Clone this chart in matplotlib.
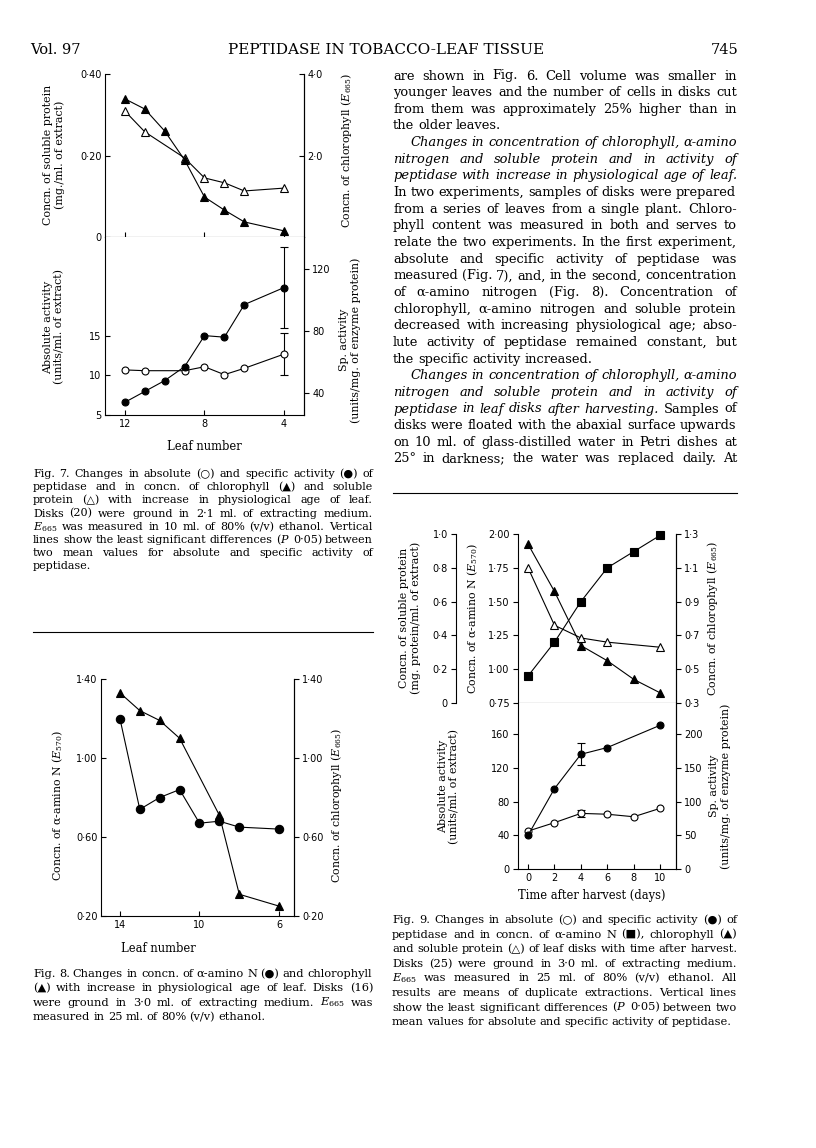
import matplotlib
matplotlib.use('Agg')
import matplotlib.pyplot as plt

plt.rcParams['font.family'] = ['DejaVu Serif', 'DejaVu Sans']
plt.rcParams['mathtext.fontset'] = 'dejavuserif'

# ---- Fig. 7 data (leaf number) ----
leaf7_chl = [12, 11, 10, 9, 8, 7, 6, 4]
chl7 = [3.39, 3.14, 2.60, 1.89, 0.98, 0.66, 0.37, 0.15]
leaf7_prot = [12, 11, 9, 8, 7, 6, 4]
prot7 = [0.309, 0.258, 0.194, 0.145, 0.133, 0.113, 0.120]
leaf7_sp = [12, 11, 10, 9, 8, 7, 6, 4]
sp7 = [34, 41, 48, 57, 77, 76, 97, 108]
leaf7_abs = [12, 11, 9, 8, 7, 6, 4]
abs7 = [10.7, 10.6, 10.6, 11.1, 10.1, 10.9, 12.7]
lsd7_abs = 2.7
lsd7_sp = 26

# ---- Fig. 8 data ----
leaf8_n = [14, 13, 12, 11, 10, 9, 8, 6]
amino8 = [1.20, 0.74, 0.80, 0.84, 0.67, 0.68, 0.65, 0.64]
leaf8_chl = [14, 13, 12, 11, 9, 8, 6]
chl8 = [1.33, 1.24, 1.19, 1.10, 0.71, 0.31, 0.25]

# ---- Fig. 9 data (days after harvest) ----
day9 = [0, 2, 4, 6, 8, 10]
amino9 = [0.95, 1.20, 1.50, 1.75, 1.87, 1.99]
chl9 = [1.24, 0.96, 0.64, 0.55, 0.44, 0.36]
day9_prot = [0, 2, 4, 6, 10]
prot9 = [0.80, 0.46, 0.385, 0.36, 0.33]
abs9 = [45, 55, 66, 65, 62, 72]
day9_sp = [0, 2, 4, 6, 10]
sp9 = [50, 119, 170, 180, 213]
lsd9_abs = 4
lsd9_sp = 16

# ---- page text ----
header = ['Vol. 97', 'PEPTIDASE IN TOBACCO-LEAF TISSUE', '745']

# (segments [(text, italic)], indent px, justified)
body = [
    ([('are shown in Fig. 6.  Cell volume was smaller in', 0)], 0, 1),
    ([('younger leaves and the number of cells in disks cut', 0)], 0, 1),
    ([('from them was approximately 25% higher than in', 0)], 0, 1),
    ([('the older leaves.', 0)], 0, 0),
    ([('Changes in concentration of chlorophyll, α-amino', 1)], 17, 1),
    ([('nitrogen and soluble protein and in activity of', 1)], 0, 1),
    ([('peptidase with increase in physiological age of leaf.', 1)], 0, 1),
    ([('In two experiments, samples of disks were prepared', 0)], 0, 1),
    ([('from a series of leaves from a single plant.  Chloro-', 0)], 0, 1),
    ([('phyll content was measured in both and serves to', 0)], 0, 1),
    ([('relate the two experiments.  In the first experiment,', 0)], 0, 1),
    ([('absolute and specific activity of peptidase was', 0)], 0, 1),
    ([('measured (Fig. 7), and, in the second, concentration', 0)], 0, 1),
    ([('of α-amino nitrogen (Fig. 8).  Concentration of', 0)], 0, 1),
    ([('chlorophyll, α-amino nitrogen and soluble protein', 0)], 0, 1),
    ([('decreased with increasing physiological age; abso-', 0)], 0, 1),
    ([('lute activity of peptidase remained constant, but', 0)], 0, 1),
    ([('the specific activity increased.', 0)], 0, 0),
    ([('Changes in concentration of chlorophyll, α-amino', 1)], 17, 1),
    ([('nitrogen and soluble protein and in activity of', 1)], 0, 1),
    ([('peptidase in leaf disks after harvesting.', 1), ('Samples of', 0)], 0, 1),
    ([('disks were floated with the abaxial surface upwards', 0)], 0, 1),
    ([('on 10 ml. of glass-distilled water in Petri dishes at', 0)], 0, 1),
    ([('25° in darkness; the water was replaced daily.  At', 0)], 0, 1),
]

cap7 = [
    'Fig. 7.  Changes in absolute (○) and specific activity (●) of',
    'peptidase and in concn. of chlorophyll (▲) and soluble',
    'protein (△) with increase in physiological age of leaf.',
    'Disks (20) were ground in 2·1 ml. of extracting medium.',
    '$E_{665}$ was measured in 10 ml. of 80% (v/v) ethanol.  Vertical',
    'lines show the least significant differences ($P$ 0·05) between',
    'two mean values for absolute and specific activity of',
    'peptidase.',
]
cap8 = [
    'Fig. 8.  Changes in concn. of α-amino N (●) and chlorophyll',
    '(▲) with increase in physiological age of leaf.  Disks (16)',
    'were ground in 3·0 ml. of extracting medium.  $E_{665}$ was',
    'measured in 25 ml. of 80% (v/v) ethanol.',
]
cap9 = [
    'Fig. 9.  Changes in absolute (○) and specific activity (●) of',
    'peptidase and in concn. of α-amino N (■), chlorophyll (▲)',
    'and soluble protein (△) of leaf disks with time after harvest.',
    'Disks (25) were ground in 3·0 ml. of extracting medium.',
    '$E_{665}$ was measured in 25 ml. of 80% (v/v) ethanol.  All',
    'results are means of duplicate extractions.  Vertical lines',
    'show the least significant differences ($P$ 0·05) between two',
    'mean values for absolute and specific activity of peptidase.',
]

W, H = 816, 1148
fig = plt.figure(figsize=(W / 100, H / 100), dpi=100)
R = fig.canvas.get_renderer()


def fx(x):
    return x / W


def fy(y):
    return 1 - y / H


def px_axes(x0, y0, x1, y1):
    return fig.add_axes([fx(x0), fy(y1), (x1 - x0) / W, (y1 - y0) / H])


def text_block(lines, x0, x1, y0, dy, max_size, gap_em=0.28):
    # lay words out at a test size, then pick the largest size that fits every line
    s0 = 10.0
    rows = []
    worst = 0
    for i, (segs, ind, just) in enumerate(lines):
        items = []
        for txt, it in segs:
            for w in txt.split():
                items.append(fig.text(0, fy(y0 + dy * i), w, fontsize=s0, va='baseline',
                                      style='italic' if it else 'normal'))
        widths = [t.get_window_extent(R).width for t in items]
        natural = sum(widths) + (len(items) - 1) * gap_em * s0 * 100 / 72
        worst = max(worst, natural / (x1 - x0 - ind))
        rows.append((items, widths, ind, just))
    size = min(max_size, s0 / worst)
    k = size / s0
    for items, widths, ind, just in rows:
        widths = [w * k for w in widths]
        gap = gap_em * size * 100 / 72
        if just and len(items) > 1:
            gap = (x1 - x0 - ind - sum(widths)) / (len(items) - 1)
        x = x0 + ind
        for t, w in zip(items, widths):
            t.set_fontsize(size)
            t.set_x(fx(x))
            x += w + gap


def caption(lines, x0, x1, y0, dy, size=8.2):
    rows = [([(s, 0)], 0, i < len(lines) - 1) for i, s in enumerate(lines)]
    text_block(rows, x0, x1, y0 + 3, dy, size)


def label(x, y, s, size=7.9):
    fig.text(fx(x), fy(y), s, rotation=90, ha='center', va='center',
             fontsize=size, multialignment='center', linespacing=1.1)


def yaxis(ax, ticks, labels, side, direction):
    ax.set_yticks(ticks, labels, fontfamily='DejaVu Sans', fontsize=7)
    left = side == 'left'
    ax.tick_params(axis='y', direction=direction, length=3.5, width=0.8, pad=2.5,
                   left=left, right=not left, labelleft=left, labelright=not left)


def spines(ax, keep):
    for k, sp in ax.spines.items():
        sp.set_visible(k in keep)
        sp.set_linewidth(0.8)


def line(ax, x, y, m, filled, ms=5.5):
    ax.plot(x, y, '-', color='k', lw=0.8, marker=m, ms=ms, mec='k', mew=0.8,
            mfc='k' if filled else 'white', clip_on=False, zorder=3)


# ---- header and body ----
fig.text(fx(30), fy(54), header[0], fontsize=10.5, va='baseline')
fig.text(fx(386), fy(54), header[1], fontsize=11, va='baseline', ha='center')
fig.text(fx(739), fy(54), header[2], fontsize=10.5, va='baseline', ha='right')

text_block(body, 393, 737, 76 + 3.5, 16.65, 9.6)

fig.add_artist(plt.Line2D([fx(393), fx(737)], [fy(493), fy(493)], color='k', lw=0.8))
fig.add_artist(plt.Line2D([fx(33), fx(373)], [fy(632), fy(632)], color='k', lw=0.8))

# ---- Fig. 7 ----
a7t = px_axes(105, 74, 304, 237)
a7t.set_xlim(13, 3)
a7t.set_ylim(0, 0.4)
a7tr = a7t.twinx()
a7tr.set_ylim(0, 4)
line(a7t, leaf7_prot, prot7, '^', False)
line(a7tr, leaf7_chl, chl7, '^', True)
yaxis(a7t, [0, 0.2, 0.4], ['0', '0·20', '0·40'], 'left', 'in')
yaxis(a7tr, [2, 4], ['2·0', '4·0'], 'right', 'in')
a7t.set_xticks([12, 8, 4], [])
a7t.tick_params(axis='x', direction='in', length=3.5, width=0.8)
spines(a7t, ['left', 'bottom', 'right'])
spines(a7tr, ['right'])

a7b = px_axes(105, 237, 304, 415)
a7b.set_xlim(13, 3)
a7b.set_ylim(5, 27.5)
a7br = a7b.twinx()
a7br.set_ylim(25.8, 140.6)
line(a7b, leaf7_abs, abs7, 'o', False, 5)
line(a7br, leaf7_sp, sp7, 'o', True, 5)
a7b.errorbar([4], [abs7[-1]], yerr=lsd7_abs, fmt='none', ecolor='k', elinewidth=0.8, capsize=3, capthick=0.8)
a7br.errorbar([4], [sp7[-1]], yerr=lsd7_sp, fmt='none', ecolor='k', elinewidth=0.8, capsize=3, capthick=0.8)
yaxis(a7b, [5, 10, 15], ['5', '10', '15'], 'left', 'in')
yaxis(a7br, [40, 80, 120], ['40', '80', '120'], 'right', 'out')
a7b.set_xticks([12, 8, 4], ['12', '8', '4'], fontfamily='DejaVu Sans', fontsize=7)
a7b.tick_params(axis='x', direction='in', length=3.5, width=0.8, pad=3)
spines(a7b, ['left', 'bottom', 'right'])
spines(a7br, ['right'])

label(54, 155, 'Concn. of soluble protein\n(mg./ml. of extract)')
label(54, 327, 'Absolute activity\n(units/ml. of extract)')
label(347, 150, 'Concn. of chlorophyll ($E_{665}$)')
label(350, 340, 'Sp. activity\n(units/mg. of enzyme protein)')
fig.text(fx(204), fy(447), 'Leaf number', ha='center', va='center', fontsize=8.3)
caption(cap7, 33, 373, 474, 13.2)

# ---- Fig. 8 ----
a8 = px_axes(101, 679, 294, 916)
a8.set_xlim(14.95, 5.25)
a8.set_ylim(0.2, 1.4)
a8r = a8.twinx()
a8r.set_ylim(0.2, 1.4)
line(a8, leaf8_n, amino8, 'o', True, 6)
line(a8r, leaf8_chl, chl8, '^', True, 6)
yaxis(a8, [0.2, 0.6, 1.0, 1.4], ['0·20', '0·60', '1·00', '1·40'], 'left', 'in')
yaxis(a8r, [0.2, 0.6, 1.0, 1.4], ['0·20', '0·60', '1·00', '1·40'], 'right', 'out')
a8.set_xticks([14, 10, 6], ['14', '10', '6'], fontfamily='DejaVu Sans', fontsize=7)
a8.tick_params(axis='x', direction='in', length=3.5, width=0.8, pad=3)
spines(a8, ['left', 'bottom', 'right'])
spines(a8r, ['right'])
label(58, 805, 'Concn. of α-amino N ($E_{570}$)')
label(337, 805, 'Concn. of chlorophyll ($E_{665}$)')
fig.text(fx(158), fy(948), 'Leaf number', ha='center', va='center', fontsize=8.3)
caption(cap8, 33, 373, 974, 14.3)

# ---- Fig. 9 ----
a9t = px_axes(518, 534, 676, 703)
a9t.set_xlim(-0.76, 11.2)
a9t.set_ylim(0.75, 2.0)
a9tr = a9t.twinx()
a9tr.set_ylim(0.3, 1.3)
a9tp = a9t.twinx()
a9tp.set_ylim(0, 1.0)
a9tp.yaxis.tick_left()
a9tp.spines['left'].set_position(('axes', -0.392))
line(a9t, day9, amino9, 's', True)
line(a9tr, day9, chl9, '^', True)
line(a9tp, day9_prot, prot9, '^', False)
yaxis(a9t, [0.75, 1.0, 1.25, 1.5, 1.75, 2.0], ['0·75', '1·00', '1·25', '1·50', '1·75', '2·00'], 'left', 'out')
yaxis(a9tr, [0.3, 0.5, 0.7, 0.9, 1.1, 1.3], ['0·3', '0·5', '0·7', '0·9', '1·1', '1·3'], 'right', 'out')
yaxis(a9tp, [0, 0.2, 0.4, 0.6, 0.8, 1.0], ['0', '0·2', '0·4', '0·6', '0·8', '1·0'], 'left', 'out')
a9t.set_xticks([])
spines(a9t, ['left', 'bottom', 'right'])
spines(a9tr, ['right'])
spines(a9tp, ['left'])

a9b = px_axes(518, 703, 676, 869)
a9b.set_xlim(-0.76, 11.2)
a9b.set_ylim(0, 197)
a9br = a9b.twinx()
a9br.set_ylim(0, 246)
line(a9b, day9, abs9, 'o', False, 5)
line(a9br, day9_sp, sp9, 'o', True, 5)
a9b.errorbar([4], [abs9[2]], yerr=lsd9_abs, fmt='none', ecolor='k', elinewidth=0.8, capsize=3, capthick=0.8)
a9br.errorbar([4], [sp9[2]], yerr=lsd9_sp, fmt='none', ecolor='k', elinewidth=0.8, capsize=3, capthick=0.8)
yaxis(a9b, [0, 40, 80, 120, 160], ['0', '40', '80', '120', '160'], 'left', 'out')
yaxis(a9br, [0, 50, 100, 150, 200], ['0', '50', '100', '150', '200'], 'right', 'out')
a9b.set_xticks([0, 2, 4, 6, 8, 10], ['0', '2', '4', '6', '8', '10'], fontfamily='DejaVu Sans', fontsize=7)
a9b.tick_params(axis='x', direction='in', length=3.5, width=0.8, pad=3)
spines(a9b, ['left', 'bottom', 'right'])
spines(a9br, ['right'])

label(410, 618, 'Concn. of soluble protein\n(mg. protein/ml. of extract)')
label(473, 618, 'Concn. of α-amino N ($E_{570}$)')
label(449, 786, 'Absolute activity\n(units/ml. of extract)')
label(713, 618, 'Concn. of chlorophyll ($E_{665}$)')
label(720, 786, 'Sp. activity\n(units/mg. of enzyme protein)')
fig.text(fx(592), fy(896), 'Time after harvest (days)', ha='center', va='center', fontsize=8.3)
caption(cap9, 392, 737, 920, 14.6)

fig.savefig('out.png', dpi=100)
